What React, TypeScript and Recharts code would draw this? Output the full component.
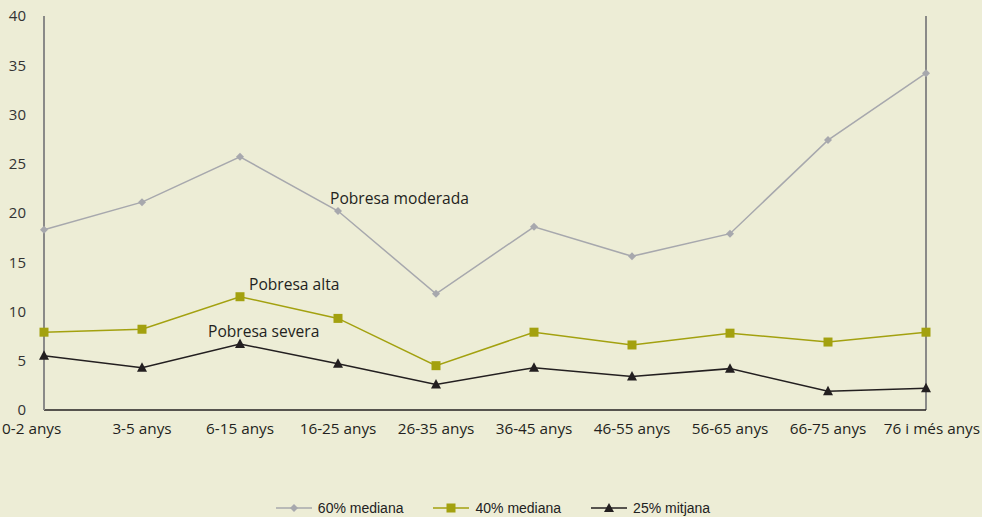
import React from 'react';
import { LineChart, Line, XAxis, YAxis, ReferenceLine, ReferenceDot } from 'recharts';

const categories = ['0-2 anys', '3-5 anys', '6-15 anys', '16-25 anys', '26-35 anys', '36-45 anys', '46-55 anys', '56-65 anys', '66-75 anys', '76 i més anys'];
const mediana60 = [18.3, 21.1, 25.7, 20.2, 11.8, 18.6, 15.6, 17.9, 27.4, 34.2];
const mediana40 = [7.9, 8.2, 11.5, 9.3, 4.5, 7.9, 6.6, 7.8, 6.9, 7.9];
const mitjana25 = [5.5, 4.3, 6.7, 4.7, 2.6, 4.3, 3.4, 4.2, 1.9, 2.2];
const yTicks = [0, 5, 10, 15, 20, 25, 30, 35, 40];
const seriesNames = ['60% mediana', '40% mediana', '25% mitjana'];
const annotations = ['Pobresa moderada', 'Pobresa alta', 'Pobresa severa'];

const data = categories.map((c, i) => ({ cat: c, a: mediana60[i], b: mediana40[i], c: mitjana25[i] }));

const BG = '#EDEDD6';
const GRAY = '#A7A8AD';
const OLIVE = '#A3A10F';
const BLACK = '#231F20';
const AXIS = '#8A8A88';
const FONT = '"Open Sans", "Noto Sans", sans-serif';

const Diamond = (props: any) => {
  const { cx, cy } = props;
  if (cx == null || cy == null) return null;
  const r = 4;
  return <path d={`M${cx},${cy - r}L${cx + r},${cy}L${cx},${cy + r}L${cx - r},${cy}Z`} fill={GRAY} />;
};
const Square = (props: any) => {
  const { cx, cy } = props;
  if (cx == null || cy == null) return null;
  return <rect x={cx - 4.5} y={cy - 4.5} width={9} height={9} fill={OLIVE} />;
};
const Triangle = (props: any) => {
  const { cx, cy } = props;
  if (cx == null || cy == null) return null;
  return <path d={`M${cx},${cy - 5.5}L${cx + 5},${cy + 4}L${cx - 5},${cy + 4}Z`} fill={BLACK} />;
};

const XTick = (props: any) => {
  const { x, y, payload, index } = props;
  let anchor: 'start' | 'middle' | 'end' = 'middle';
  let tx = x;
  if (index === 0) { anchor = 'start'; tx = x - 42; }
  if (index === categories.length - 1) { anchor = 'end'; tx = x + 54; }
  return (
    <text x={tx} y={y + 24} textAnchor={anchor} fontSize={15.3} fill={BLACK} fontFamily={FONT}>
      {payload.value}
    </text>
  );
};

const makeLabel = (text: string, dx: number, dy: number) => (props: any) => {
  const { viewBox } = props;
  const x = viewBox.x + (viewBox.width || 0) / 2;
  const y = viewBox.y + (viewBox.height || 0) / 2;
  return (
    <text x={x + dx} y={y + dy} fontSize={15.6} fill={BLACK} fontFamily={FONT}>
      {text}
    </text>
  );
};

const LegendItem = ({ color, name, marker }: { color: string; name: string; marker: string }) => (
  <div style={{ display: 'flex', alignItems: 'center', marginRight: 30 }}>
    <svg width={36} height={12} style={{ marginRight: 6 }}>
      <line x1={0} y1={6} x2={36} y2={6} stroke={color} strokeWidth={1.5} />
      {marker === 'diamond' && <path d="M18,2L22,6L18,10L14,6Z" fill={color} />}
      {marker === 'square' && <rect x={13.5} y={1.5} width={9} height={9} fill={color} />}
      {marker === 'triangle' && <path d="M18,1L23,10L13,10Z" fill={color} />}
    </svg>
    <span style={{ fontSize: 14, color: '#222', fontFamily: '"Liberation Sans", Arial, sans-serif' }}>{name}</span>
  </div>
);

export default function App() {
  return (
    <div style={{ position: 'absolute', left: 0, top: 0, width: 982, height: 517, background: BG, overflow: 'hidden' }}>
      <LineChart width={982} height={517} data={data} margin={{ top: 16, right: 56, left: 0, bottom: 77 }}>
        <XAxis
          dataKey="cat"
          axisLine={{ stroke: BLACK, strokeWidth: 1.5 }}
          tickLine={false}
          tickSize={0}
          tickMargin={0}
          height={30}
          interval={0}
          tick={<XTick />}
        />
        <YAxis
          domain={[0, 40]}
          ticks={yTicks}
          width={44}
          axisLine={{ stroke: AXIS, strokeWidth: 2 }}
          tickLine={false}
          tickSize={0}
          tickMargin={18}
          interval={0}
          tick={{ fontSize: 15, fill: '#333', fontFamily: FONT }}
        />
        <ReferenceLine x={categories[categories.length - 1]} stroke={AXIS} strokeWidth={2} />
        <Line dataKey="a" name={seriesNames[0]} stroke={GRAY} strokeWidth={1.5} dot={<Diamond />} activeDot={false} isAnimationActive={false} />
        <Line dataKey="b" name={seriesNames[1]} stroke={OLIVE} strokeWidth={1.5} dot={<Square />} activeDot={false} isAnimationActive={false} />
        <Line dataKey="c" name={seriesNames[2]} stroke={BLACK} strokeWidth={1.5} dot={<Triangle />} activeDot={false} isAnimationActive={false} />
        <ReferenceDot x={categories[3]} y={mediana60[3]} r={0} stroke="none" fill="none" label={makeLabel(annotations[0], -8, -7)} />
        <ReferenceDot x={categories[2]} y={mediana40[2]} r={0} stroke="none" fill="none" label={makeLabel(annotations[1], 9, -7)} />
        <ReferenceDot x={categories[2]} y={mitjana25[2]} r={0} stroke="none" fill="none" label={makeLabel(annotations[2], -32, -7)} />
      </LineChart>
      <div style={{ position: 'absolute', left: 0, top: 500, width: 982, display: 'flex', justifyContent: 'center', paddingLeft: 34, boxSizing: 'border-box' }}>
        <LegendItem color={GRAY} name={seriesNames[0]} marker="diamond" />
        <LegendItem color={OLIVE} name={seriesNames[1]} marker="square" />
        <LegendItem color={BLACK} name={seriesNames[2]} marker="triangle" />
      </div>
    </div>
  );
}
